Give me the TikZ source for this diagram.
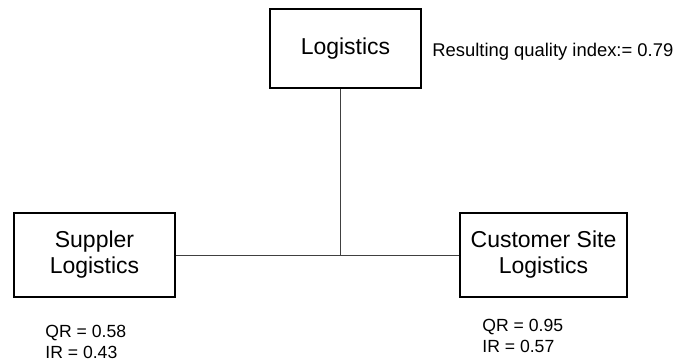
\documentclass[tikz,border=0pt]{standalone}
\usepackage{fontspec}
\setmainfont{Liberation Sans}
\usetikzlibrary{positioning}

\begin{document}
\begin{tikzpicture}[
        x=0.5pt, y=-0.5pt,
        boxnode/.style={draw, line width=0.6pt, align=center, font=\fontsize{11.5}{13}\selectfont, inner sep=0pt},
        valuenode/.style={anchor=west, align=left, inner sep=0pt, font=\fontsize{8.8}{10.5}\selectfont},
    ]
    \useasboundingbox (0,0) rectangle (690,360);
    \begin{scope}
        
        \node[boxnode, minimum width=75.5pt, minimum height=39.5pt] (top_log) at (345.5, 48.5) {Logistics};
        \node[boxnode, minimum width=80.5pt, minimum height=42pt] (sup_log) at (94.5, 255) {Suppler\\Logistics};
        \node[boxnode, minimum width=83.5pt, minimum height=42pt] (cus_log) at (543.5, 255) {Customer Site\\Logistics};
        
        \node[valuenode, font=\fontsize{9.2}{11}\selectfont] (top_idx) at (432, 52) {Resulting quality index:= 0.79};
        \node[valuenode] (sup_val) at (45, 342) {QR = 0.58\\IR = 0.43};
        \node[valuenode] (cus_val) at (482, 336) {QR = 0.95\\IR = 0.57};
        
        \coordinate (junc) at (340, 255);
    \end{scope}

    \begin{scope} [line width=0.45pt, draw=black!75]
        \draw (top_log.south -| junc) -- (junc);
        \draw (sup_log.east) -- (cus_log.west);
    \end{scope}
    \end{tikzpicture}
\end{document}
